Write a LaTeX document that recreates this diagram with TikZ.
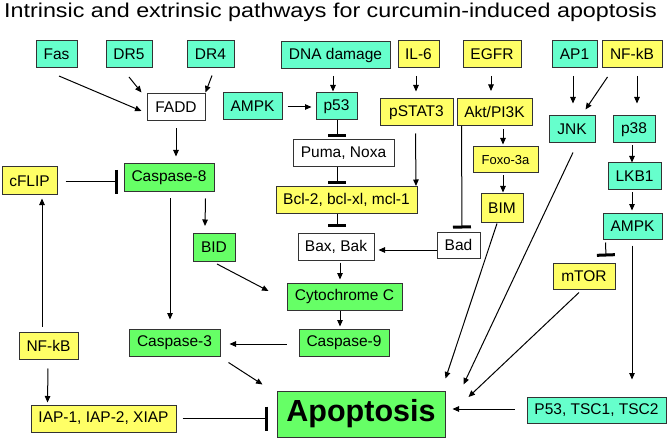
\documentclass[tikz,border=0pt]{standalone}
\usepackage{fontspec}
\setmainfont{Liberation Sans}
\usetikzlibrary{arrows.meta}
\definecolor{cyanbox}{HTML}{66FFCC}
\definecolor{greenbox}{HTML}{66FF66}
\definecolor{yellowbox}{HTML}{FFFF66}
\begin{document}
\begin{tikzpicture}[x=1pt,y=-1pt,
  box/.style={draw=black!80,line width=1pt,inner sep=0pt,minimum height=27pt,font=\fontsize{15.5}{18}\selectfont},
  cy/.style={box,fill=cyanbox},
  gr/.style={box,fill=greenbox},
  ye/.style={box,fill=yellowbox},
  wh/.style={box,fill=white},
  act/.style={line width=1pt,-{Triangle[length=6.5pt,width=5.5pt]}},
  inh/.style={line width=1pt,-{Bar[width=18pt,line width=3pt]}},
  inhv/.style={line width=1pt,-{Bar[width=24pt,line width=3pt]}}]
\useasboundingbox[fill=white] (0,0) rectangle (667,441);
\node[anchor=base west,inner sep=0pt] (title) at (4,17.3) {\scalebox{1.165}[1]{\fontsize{20}{24}\selectfont Intrinsic and extrinsic pathways for curcumin-induced apoptosis}};
% nodes
\node[cy,minimum width=41pt] (Fas) at (56.5,54) {Fas};
\node[cy,minimum width=46pt] (DR5) at (129,54) {DR5};
\node[cy,minimum width=47pt] (DR4) at (210.5,54.5) {DR4};
\node[cy,minimum width=109pt] (DNA) at (335.5,55) {DNA damage};
\node[ye,minimum width=41pt] (IL6) at (418.5,54) {IL-6};
\node[ye,minimum width=58pt] (EGFR) at (492,54) {EGFR};
\node[cy,minimum width=45pt] (AP1) at (574.5,54) {AP1};
\node[ye,minimum width=60pt] (NFkB1) at (632,54) {NF-kB};
\node[wh,minimum width=58pt] (FADD) at (176,107.5) {FADD};
\node[cy,minimum width=59pt] (AMPK1) at (252.5,106.5) {AMPK};
\node[cy,minimum width=41pt] (p53) at (336.5,106.5) {p53};
\node[ye,minimum width=73pt] (pSTAT3) at (416.5,112.5) {pSTAT3};
\node[ye,minimum width=75pt] (Akt) at (494.5,112) {Akt/PI3K};
\node[cy,minimum width=46pt] (JNK) at (572,129.5) {JNK};
\node[cy,minimum width=42pt] (p38) at (634,129.5) {p38};
\node[wh,minimum width=101pt] (Puma) at (343.5,153.5) {Puma, Noxa};
\node[ye,minimum width=65pt,minimum height=26pt,font=\fontsize{13}{16}\selectfont] (Foxo) at (505.5,160) {Foxo-3a};
\node[cy,minimum width=53pt] (LKB1) at (634.5,176.5) {LKB1};
\node[ye,minimum width=55pt,minimum height=28pt] (cFLIP) at (29.5,181) {cFLIP};
\node[gr,minimum width=90pt,minimum height=28pt] (Casp8) at (169,178) {Caspase-8};
\node[ye,minimum width=141pt] (Bcl2) at (346.5,200) {Bcl-2, bcl-xl, mcl-1};
\node[ye,minimum width=42pt,minimum height=28pt] (BIM) at (502,208) {BIM};
\node[cy,minimum width=59pt,minimum height=26pt] (AMPK2) at (632.5,226) {AMPK};
\node[gr,minimum width=42pt,minimum height=28pt] (BID) at (214,247) {BID};
\node[wh,minimum width=76pt] (Bax) at (336,246.5) {Bax, Bak};
\node[wh,minimum width=43pt,minimum height=26pt] (Bad) at (458.5,245) {Bad};
\node[ye,minimum width=62pt,minimum height=26pt] (mTOR) at (584,276) {mTOR};
\node[gr,minimum width=115pt] (Cyto) at (344.5,296.5) {Cytochrome C};
\node[ye,minimum width=59pt] (NFkB2) at (48.5,345.5) {NF-kB};
\node[gr,minimum width=91pt] (Casp3) at (174.5,342.5) {Caspase-3};
\node[gr,minimum width=90pt] (Casp9) at (344,342.5) {Caspase-9};
\node[gr,minimum width=168pt,minimum height=46pt,font=\fontsize{30.5}{34}\selectfont\bfseries] (Apop) at (361,414) {Apoptosis};
\node[ye,minimum width=145pt] (IAP) at (103.5,418.5) {IAP-1, IAP-2, XIAP};
\node[cy,minimum width=139pt,minimum height=26pt] (P53TSC) at (596.5,410) {P53, TSC1, TSC2};
% connectors
\draw[act] ([shift={(2.5,8)}]Fas.south) -- ([shift={(-5,3.5)}]FADD.west);
\draw[act] ([shift={(0,9)}]DR5.south) -- ([shift={(-5,-1)}]FADD.north west);
\draw[act] ([shift={(1.5,7)}]DR4.south) -- ([shift={(0,-1)}]FADD.north east);
\draw[act] ([shift={(0,7)}]FADD.south) -- ([shift={(7,-7)}]Casp8.north);
\draw[act] ([shift={(5,0.5)}]AMPK1.east) -- ([shift={(-4,0.5)}]p53.west);
\draw[act] ([shift={(-2.5,7)}]DNA.south) -- ([shift={(-3.5,-1)}]p53.north);
\draw[inh] ([shift={(0.5,0)}]p53.south) -- ([shift={(-6.5,-2)}]Puma.north);
\draw[inh] ([shift={(-6.5,0)}]Puma.south) -- ([shift={(-9.5,-2)}]Bcl2.north);
\draw[inh] ([shift={(-9.5,0)}]Bcl2.south) -- ([shift={(1,-6)}]Bax.north);
\draw[act] ([shift={(-1,7)}]pSTAT3.south) -- ([shift={(-1.5,0)}]Bcl2.north east);
\draw[inh] ([shift={(5,0)}]Akt.south west) -- ([shift={(3.5,-3)}]Bad.north);
\draw[act] ([shift={(8.5,3)}]Akt.south) -- ([shift={(-2.5,-2)}]Foxo.north);
\draw[act] ([shift={(-2.5,2)}]Foxo.south) -- ([shift={(1,-1)}]BIM.north);
\draw[act] ([shift={(0,5)}]Bad.west) -- ([shift={(4,3.5)}]Bax.east);
\draw[act] ([shift={(4,2)}]Bax.south) -- ([shift={(-4.5,-3)}]Cyto.north);
\draw[act] ([shift={(-4.5,0)}]Cyto.south) -- ([shift={(-4,-2)}]Casp9.north);
\draw[act] ([shift={(-12,1.5)}]Casp9.west) -- ([shift={(9,1.5)}]Casp3.east);
\draw[act] ([shift={(1,6)}]Casp8.south) -- ([shift={(-4.5,-9)}]Casp3.north);
\draw[act] ([shift={(-9,6)}]Casp8.south east) -- ([shift={(-9,-6.5)}]BID.north);
\draw[act] ([shift={(3,2.5)}]BID.south) -- ([shift={(-18,-5.5)}]Cyto.west);
\draw[act] ([shift={(8,6)}]Casp3.south east) -- ([shift={(-14,-6)}]Apop.north west);
\draw[inhv] ([shift={(8,1)}]cFLIP.east) -- ([shift={(-6,4)}]Casp8.west);
\draw[act] ([shift={(-6.5,-5)}]NFkB2.north) -- ([shift={(12.5,3)}]cFLIP.south);
\draw[act] ([shift={(-0.5,9)}]NFkB2.south) -- ([shift={(17,-2)}]IAP.north west);
\draw[inhv] ([shift={(6,0)}]IAP.east) -- ([shift={(-9,4.5)}]Apop.west);
\draw[act] ([shift={(-5,1)}]BIM.south) -- ([shift={(0,-12)}]Apop.north east);
\draw[act] ([shift={(1,9)}]JNK.south) -- ([shift={(18,-6)}]Apop.north east);
\draw[act] ([shift={(-5,3)}]mTOR.south) -- ([shift={(23,-17)}]Apop.east);
\draw[act] ([shift={(-12,-1)}]P53TSC.west) -- ([shift={(7,-5)}]Apop.east);
\draw[act] ([shift={(-0.5,6)}]AMPK2.south) -- ([shift={(35.5,-17)}]P53TSC.north);
\draw[inh] ([shift={(3,3)}]AMPK2.south west) -- ([shift={(22,-6)}]mTOR.north);
\draw[act] ([shift={(-2.5,2)}]LKB1.south) -- ([shift={(-0.5,-2)}]AMPK2.north);
\draw[act] ([shift={(-2,2)}]p38.south) -- ([shift={(-2.5,0)}]LKB1.north);
\draw[act] ([shift={(-1.5,8)}]AP1.south) -- ([shift={(1,-12)}]JNK.north);
\draw[act] ([shift={(6,9)}]NFkB1.south west) -- ([shift={(-10,-6)}]JNK.north east);
\draw[act] ([shift={(5,8)}]NFkB1.south) -- ([shift={(3,-12)}]p38.north);
\draw[act] ([shift={(-1,8)}]EGFR.south) -- ([shift={(-3.5,-7)}]Akt.north);
\draw[act] ([shift={(-2.5,8)}]IL6.south) -- ([shift={(-0.5,-7)}]pSTAT3.north);
\end{tikzpicture}
\end{document}
